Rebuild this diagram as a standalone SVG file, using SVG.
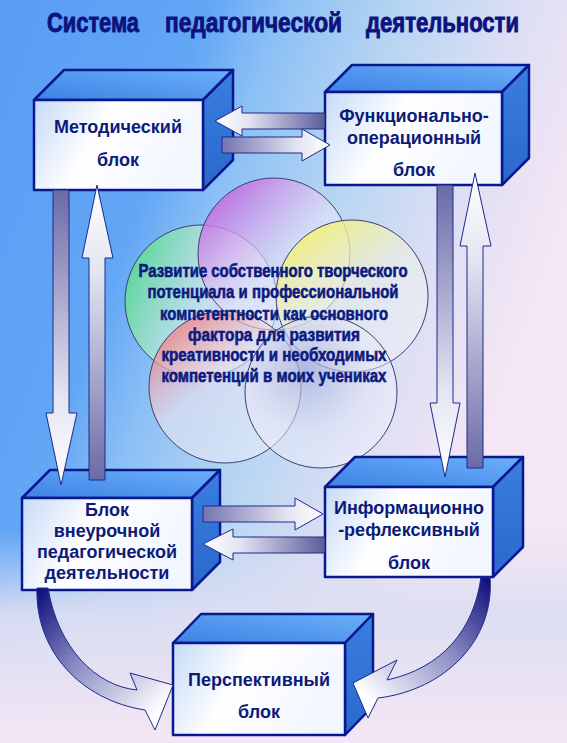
<svg xmlns="http://www.w3.org/2000/svg" width="567" height="743" viewBox="0 0 567 743">
<defs>
<style>
.box-front{fill:url(#gFront);stroke:#0a1890;stroke-width:2.5;stroke-linejoin:round}
.box-top{fill:url(#gTop);stroke:#0a1890;stroke-width:2.5;stroke-linejoin:round}
.box-side{fill:url(#gSide);stroke:#0a1890;stroke-width:2.5;stroke-linejoin:round}
.lbl{font-family:"Liberation Sans",Arial,sans-serif;font-weight:bold;font-size:18px;fill:#0c1a78;text-anchor:middle}
.title{font-family:"Liberation Sans",Arial,sans-serif;font-weight:bold;font-size:27px;fill:#0c127e;stroke:#0c127e;stroke-width:0.9}
.ctext{font-family:"Liberation Sans",Arial,sans-serif;font-weight:bold;font-size:18px;fill:#0c1a80;stroke:#0c1a80;stroke-width:0.6;text-anchor:middle}
.arr{stroke:#1c2a8c;stroke-width:1;stroke-linejoin:miter}
.circ{stroke:#3a4070;stroke-width:1}
</style>
<linearGradient id="gBg" gradientUnits="userSpaceOnUse" x1="0" y1="0" x2="567" y2="200">
<stop offset="0" stop-color="#5a9cf5"/>
<stop offset="0.33" stop-color="#62a6f5"/>
<stop offset="0.45" stop-color="#8cc0f5"/>
<stop offset="0.64" stop-color="#b8d6f2"/>
<stop offset="0.82" stop-color="#dcdef4"/>
<stop offset="1" stop-color="#f4e6f4"/>
</linearGradient>
<linearGradient id="gBgBottom" gradientUnits="userSpaceOnUse" x1="0" y1="530" x2="0" y2="743">
<stop offset="0" stop-color="#dcdef2" stop-opacity="0"/>
<stop offset="0.4" stop-color="#dcdef2" stop-opacity="0.95"/>
<stop offset="1" stop-color="#f4e6f4" stop-opacity="1"/>
</linearGradient>
<linearGradient id="gFront" x1="0" y1="0" x2="1" y2="0.3">
<stop offset="0" stop-color="#c6daf8"/>
<stop offset="0.45" stop-color="#ffffff"/>
<stop offset="1" stop-color="#f2f6ff"/>
</linearGradient>
<linearGradient id="gTop" x1="0" y1="1" x2="1" y2="0">
<stop offset="0" stop-color="#3c82e4"/>
<stop offset="1" stop-color="#6cb0fa"/>
</linearGradient>
<linearGradient id="gSide" x1="0" y1="0" x2="0" y2="1">
<stop offset="0" stop-color="#3a7ee0"/>
<stop offset="1" stop-color="#2a68cc"/>
</linearGradient>
<linearGradient id="gDown" x1="0" y1="0" x2="0" y2="1">
<stop offset="0" stop-color="#6a6aa8"/>
<stop offset="0.7" stop-color="#e4e4f2"/>
<stop offset="1" stop-color="#ffffff"/>
</linearGradient>
<linearGradient id="gUp" x1="0" y1="1" x2="0" y2="0">
<stop offset="0" stop-color="#6a6aa8"/>
<stop offset="0.7" stop-color="#e4e4f2"/>
<stop offset="1" stop-color="#ffffff"/>
</linearGradient>
<linearGradient id="gRight" x1="0" y1="0" x2="1" y2="0">
<stop offset="0" stop-color="#7474b0"/>
<stop offset="0.7" stop-color="#e4e4f2"/>
<stop offset="1" stop-color="#ffffff"/>
</linearGradient>
<linearGradient id="gLeft" x1="1" y1="0" x2="0" y2="0">
<stop offset="0" stop-color="#5c5c9c"/>
<stop offset="0.7" stop-color="#e4e4f2"/>
<stop offset="1" stop-color="#ffffff"/>
</linearGradient>
<linearGradient id="gCurveL" gradientUnits="userSpaceOnUse" x1="40" y1="590" x2="165" y2="705">
<stop offset="0" stop-color="#10107a"/>
<stop offset="0.45" stop-color="#8a8ac4"/>
<stop offset="1" stop-color="#ffffff"/>
</linearGradient>
<linearGradient id="gCurveR" gradientUnits="userSpaceOnUse" x1="488" y1="580" x2="365" y2="695">
<stop offset="0" stop-color="#10107a"/>
<stop offset="0.45" stop-color="#8a8ac4"/>
<stop offset="1" stop-color="#ffffff"/>
</linearGradient>
<linearGradient id="gcTop" x1="0.1" y1="0.1" x2="0.9" y2="0.9">
<stop offset="0" stop-color="#c060e0" stop-opacity="0.9"/>
<stop offset="0.55" stop-color="#e6e2f6" stop-opacity="0.6"/>
<stop offset="1" stop-color="#f4f4fc" stop-opacity="0.45"/>
</linearGradient>
<linearGradient id="gcLeft" x1="0" y1="0.3" x2="1" y2="0.7">
<stop offset="0" stop-color="#58dc8c" stop-opacity="0.9"/>
<stop offset="0.55" stop-color="#e4eef4" stop-opacity="0.6"/>
<stop offset="1" stop-color="#f4f4fc" stop-opacity="0.45"/>
</linearGradient>
<linearGradient id="gcRight" x1="0.15" y1="0" x2="0.85" y2="1">
<stop offset="0" stop-color="#f4f060" stop-opacity="0.95"/>
<stop offset="0.5" stop-color="#eef0e8" stop-opacity="0.6"/>
<stop offset="1" stop-color="#f4f4fc" stop-opacity="0.45"/>
</linearGradient>
<linearGradient id="gcBL" x1="0" y1="0" x2="0.8" y2="1">
<stop offset="0" stop-color="#f05a5a" stop-opacity="0.9"/>
<stop offset="0.5" stop-color="#ece4f0" stop-opacity="0.6"/>
<stop offset="1" stop-color="#f4f4fc" stop-opacity="0.45"/>
</linearGradient>
<radialGradient id="gcBR" cx="0.4" cy="0.35" r="0.7">
<stop offset="0" stop-color="#a8acd8" stop-opacity="0.7"/>
<stop offset="0.6" stop-color="#e6e6f6" stop-opacity="0.55"/>
<stop offset="1" stop-color="#f4f4fc" stop-opacity="0.45"/>
</radialGradient>
</defs>

<rect x="0" y="0" width="567" height="743" fill="url(#gBg)"/>
<rect x="0" y="530" width="567" height="213" fill="url(#gBgBottom)"/>

<g id="title">
<text class="title" x="47" y="32" textLength="92" lengthAdjust="spacingAndGlyphs">Система</text>
<text class="title" x="165" y="32" textLength="177" lengthAdjust="spacingAndGlyphs">педагогической</text>
<text class="title" x="366" y="32" textLength="153" lengthAdjust="spacingAndGlyphs">деятельности</text>
</g>

<g id="circles">
<circle class="circ" cx="201" cy="301" r="76" fill="url(#gcLeft)"/>
<circle class="circ" cx="274" cy="254" r="76" fill="url(#gcTop)"/>
<circle class="circ" cx="352" cy="296" r="76" fill="url(#gcRight)"/>
<circle class="circ" cx="225" cy="387" r="76" fill="url(#gcBL)"/>
<circle class="circ" cx="321" cy="392" r="76" fill="url(#gcBR)"/>
</g>

<g id="center-text">
<text class="ctext" x="273" y="277" textLength="269" lengthAdjust="spacingAndGlyphs">Развитие собственного творческого</text>
<text class="ctext" x="273" y="298" textLength="251" lengthAdjust="spacingAndGlyphs">потенциала и профессиональной</text>
<text class="ctext" x="274" y="320" textLength="228" lengthAdjust="spacingAndGlyphs">компетентности как основного</text>
<text class="ctext" x="274" y="341" textLength="172" lengthAdjust="spacingAndGlyphs">фактора для развития</text>
<text class="ctext" x="274" y="361" textLength="225" lengthAdjust="spacingAndGlyphs">креативности и необходимых</text>
<text class="ctext" x="274" y="382" textLength="225" lengthAdjust="spacingAndGlyphs">компетенций в моих учениках</text>
</g>

<g id="node-metod">
<polygon class="box-top" points="34,100 64,70 233,70 203,100"/>
<polygon class="box-side" points="203,100 233,70 233,160 203,190"/>
<rect class="box-front" x="34" y="100" width="169" height="90"/>
<text class="lbl" x="118" y="133">Методический</text>
<text class="lbl" x="118" y="166">блок</text>
</g>

<g id="node-func">
<polygon class="box-top" points="325,92 352,65 529,65 502,92"/>
<polygon class="box-side" points="502,92 529,65 529,158 502,185"/>
<rect class="box-front" x="325" y="92" width="177" height="93"/>
<text class="lbl" x="414" y="122">Функционально-</text>
<text class="lbl" x="414" y="144">операционный</text>
<text class="lbl" x="414" y="176">блок</text>
</g>

<g id="node-vneur">
<polygon class="box-top" points="22,498 50,470 220,470 192,498"/>
<polygon class="box-side" points="192,498 220,470 220,562 192,590"/>
<rect class="box-front" x="22" y="498" width="170" height="92"/>
<text class="lbl" x="107" y="516">Блок</text>
<text class="lbl" x="107" y="537">внеурочной</text>
<text class="lbl" x="107" y="558">педагогической</text>
<text class="lbl" x="107" y="579">деятельности</text>
</g>

<g id="node-inform">
<polygon class="box-top" points="325,487 355,457 523,457 493,487"/>
<polygon class="box-side" points="493,487 523,457 523,547 493,577"/>
<rect class="box-front" x="325" y="487" width="168" height="90"/>
<text class="lbl" x="409" y="514">Информационно</text>
<text class="lbl" x="409" y="536">-рефлексивный</text>
<text class="lbl" x="409" y="569">блок</text>
</g>

<g id="node-persp">
<polygon class="box-top" points="173,643 201,614 373,614 345,643"/>
<polygon class="box-side" points="345,643 373,614 373,706 345,735"/>
<rect class="box-front" x="173" y="643" width="172" height="92"/>
<text class="lbl" x="259" y="686">Перспективный</text>
<text class="lbl" x="259" y="718">блок</text>
</g>

<g id="connectors">
<polygon class="arr" fill="url(#gLeft)" points="215,121 242,106 242,113 325,113 325,129 242,129 242,136"/>
<polygon class="arr" fill="url(#gRight)" points="222,137 302,137 302,129 330,145 302,161 302,153 222,153"/>
<polygon class="arr" fill="url(#gDown)" points="53,190 69,190 69,413 77,413 61,485 46,413 53,413"/>
<polygon class="arr" fill="url(#gUp)" points="97,185 113,258 105,258 105,480 89,480 89,258 82,258"/>
<polygon class="arr" fill="url(#gDown)" points="437,185 453,185 453,403 460,403 445,477 430,403 437,403"/>
<polygon class="arr" fill="url(#gUp)" points="475,173 491,246 483,246 483,468 467,468 467,246 460,246"/>
<polygon class="arr" fill="url(#gRight)" points="203,506 295,506 295,498 323,514 295,530 295,522 203,522"/>
<polygon class="arr" fill="url(#gLeft)" points="203,544 233,529 233,537 325,537 325,553 233,553 233,560"/>
<path class="arr" fill="url(#gCurveL)" d="M37,588 C35,650 80,700 145,710 L155,730 L173,685 L130,673 L137,690 C96,686 58,648 48,588 Z"/>
<path class="arr" fill="url(#gCurveR)" d="M481,577 C474,630 442,668 387,680 L397,660 L353,683 L368,718 L378,698 C445,690 495,640 490,577 Z"/>
</g>
</svg>
